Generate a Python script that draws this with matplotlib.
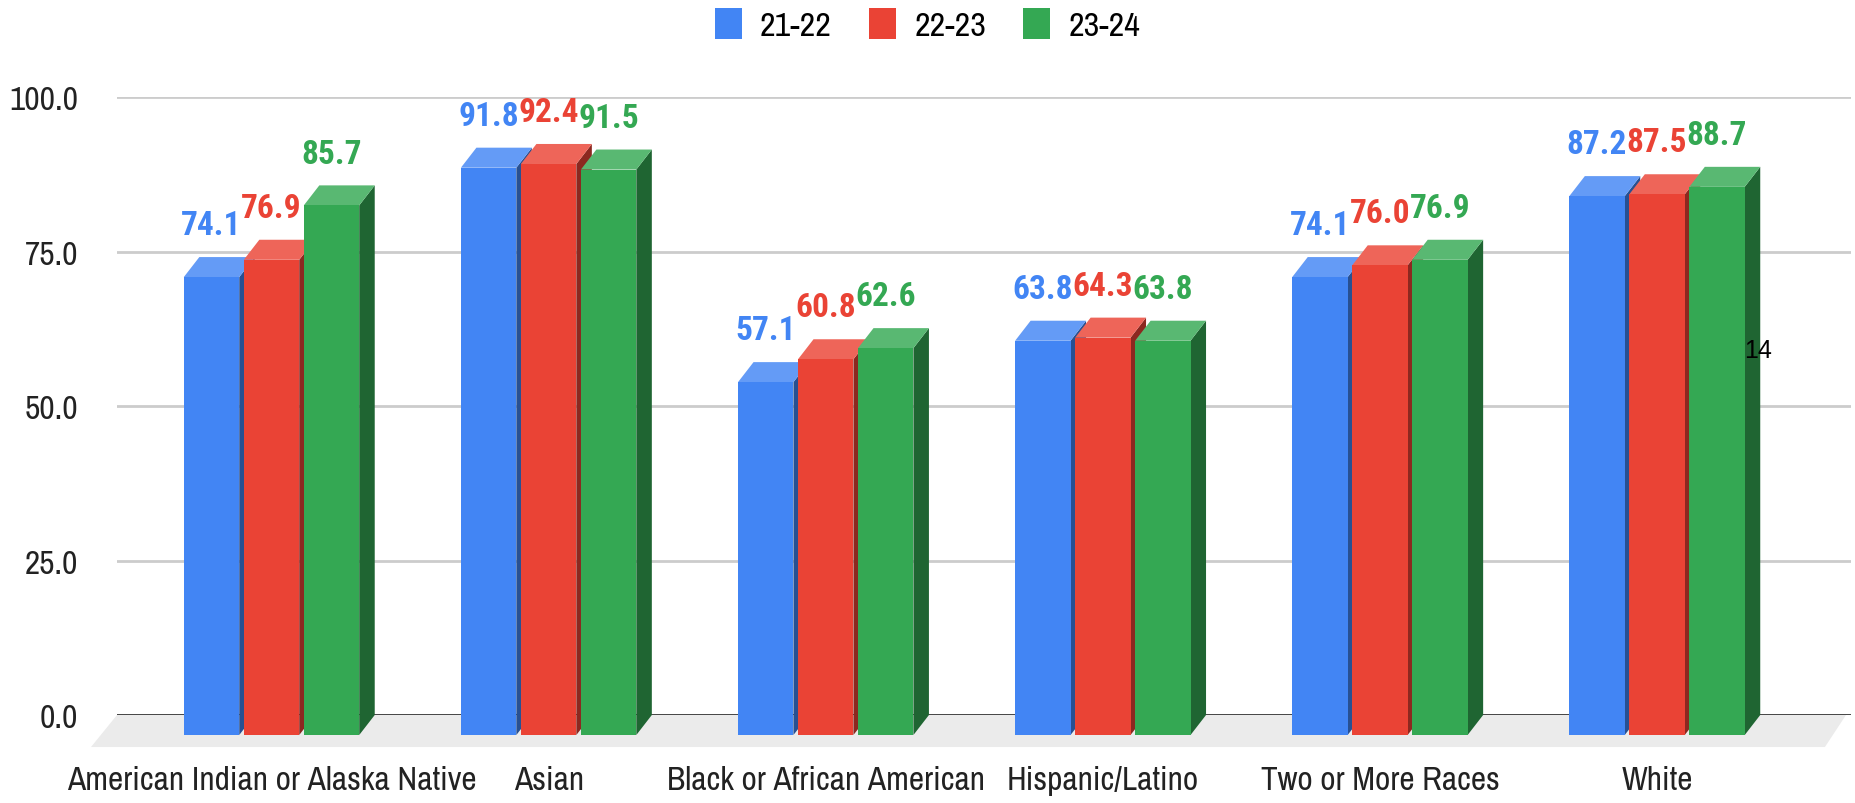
import matplotlib
matplotlib.use("Agg")
import matplotlib.pyplot as plt
import numpy as np
from matplotlib import font_manager
from matplotlib.colors import to_rgb
from matplotlib.patches import Polygon, Patch

categories = ["American Indian or Alaska Native", "Asian", "Black or African American",
              "Hispanic/Latino", "Two or More Races", "White"]
years = ["21-22", "22-23", "23-24"]
vals_21_22 = [74.1, 91.8, 57.1, 63.8, 74.1, 87.2]
vals_22_23 = [76.9, 92.4, 60.8, 64.3, 76.0, 87.5]
vals_23_24 = [85.7, 91.5, 62.6, 63.8, 76.9, 88.7]
yticks = [0, 25, 50, 75, 100]
page_number = "14"

colors = ["#4285F4", "#EA4335", "#34A853"]


def pick(cands, bold=False):
    for n in cands:
        ws = [f.weight for f in font_manager.fontManager.ttflist if f.name == n]
        ws = [w if isinstance(w, int) else 400 for w in ws]
        if ws and (not bold or max(ws) >= 600):
            return n
    return "DejaVu Sans"


narrow = pick(["Liberation Sans Narrow", "Arial Narrow", "Archivo Narrow", "PT Sans Narrow",
               "Roboto Condensed", "Asap Condensed", "Liberation Sans"])
narrow_bold = pick(["Roboto Condensed", "Liberation Sans Narrow", "Archivo Narrow",
                    "PT Sans Narrow", "Asap Condensed", "Liberation Sans"], bold=True)
plt.rcParams["font.family"] = [narrow, "DejaVu Sans"]


def shade(c, f):
    r = np.array(to_rgb(c))
    if f > 0:
        return tuple(r + (1 - r) * f)
    return tuple(r * (1 + f))


fig = plt.figure(figsize=(18.55, 8.04), dpi=100)
ax = fig.add_axes([0.06307, 0.10945, 0.93477, 0.76866])
ax.set_xlim(-0.5576, 5.700)
ax.set_ylim(0, 100)

# depth of the fake 3D effect, in data units
ddx, ddy = 0.056, 3.24
width, step = 0.200, 0.2165

# floor
floor = Polygon([(-0.5576, 0), (5.682, 0), (5.606, -5.18), (-0.6514, -5.18)],
                closed=True, facecolor="#ebebeb", edgecolor="none", zorder=0, clip_on=False)
ax.add_patch(floor)

for y in yticks[1:]:
    ax.axhline(y, color="#cccccc", lw=2, zorder=1)
ax.axhline(0, color="#333333", lw=2, zorder=1)

x = np.arange(len(categories))
series = [vals_21_22, vals_22_23, vals_23_24]
for i, vals in enumerate(series):
    c = colors[i]
    for j, v in enumerate(vals):
        x0 = x[j] + (i - 1) * step - width / 2
        x1 = x0 + width
        z = 3 + j * 10 + i * 3
        side = Polygon([(x1, -ddy), (x1 + ddx, 0), (x1 + ddx, v), (x1, v - ddy)],
                       facecolor=shade(c, -0.4), edgecolor="none", zorder=z, clip_on=False)
        top = Polygon([(x0, v - ddy), (x1, v - ddy), (x1 + ddx, v), (x0 + ddx, v)],
                      facecolor=shade(c, 0.18), edgecolor="none", zorder=z, clip_on=False)
        ax.add_patch(side)
        ax.add_patch(top)
        ax.bar(x0, v, width=width, bottom=-ddy, align="edge", color=c,
               zorder=z + 1, clip_on=False)
        ax.text(x0 + width / 2, v + 3.7, f"{v:.1f}", ha="center", va="baseline",
                color=c, fontsize=24, fontweight="bold", family=narrow_bold, zorder=100)

ax.set_yticks(yticks)
ax.set_yticklabels([f"{t:.1f}" for t in yticks])
ax.set_xticks(x)
ax.set_xticklabels(categories)
ax.tick_params(axis="y", length=0, pad=28, labelsize=24, labelcolor="#222222")
ax.tick_params(axis="x", length=0, pad=36, labelsize=24, labelcolor="#222222")
for s in ax.spines.values():
    s.set_visible(False)

handles = [Patch(facecolor=c, edgecolor="none") for c in colors]
fig.legend(handles, years, loc="upper center", bbox_to_anchor=(0.5, 1.0), ncol=3,
           frameon=False, fontsize=24.5, handlelength=0.8, handleheight=1.03,
           handletextpad=0.53, columnspacing=1.09, borderaxespad=0.1, borderpad=0.15)

fig.text(1758 / 1855, 1 - 351 / 804, page_number, ha="center", va="center",
         fontsize=18, family="Liberation Sans", color="black", zorder=200)

fig.savefig("out.png", dpi=100)
